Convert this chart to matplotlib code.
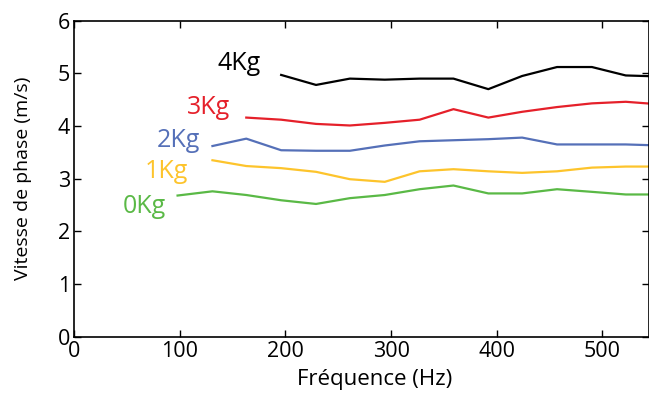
import matplotlib
matplotlib.use("Agg")
import matplotlib.pyplot as plt

plt.rcParams['font.family'] = ['Open Sans', 'DejaVu Sans']

freq = [98, 131, 163, 196, 229, 261, 294, 327, 359, 392, 424, 457, 490, 522, 555]

v0 = [2.68, 2.76, 2.69, 2.59, 2.52, 2.63, 2.69, 2.80, 2.87, 2.72, 2.72, 2.80, 2.75, 2.70, 2.70]
v1 = [None, 3.35, 3.24, 3.20, 3.13, 2.99, 2.94, 3.14, 3.18, 3.14, 3.11, 3.14, 3.21, 3.23, 3.23]
v2 = [None, 3.62, 3.76, 3.54, 3.53, 3.53, 3.63, 3.71, 3.73, 3.75, 3.78, 3.65, 3.65, 3.65, 3.63]
v3 = [None, None, 4.16, 4.12, 4.04, 4.01, 4.06, 4.12, 4.32, 4.16, 4.27, 4.36, 4.43, 4.46, 4.41]
v4 = [None, None, None, 4.97, 4.78, 4.90, 4.88, 4.90, 4.90, 4.70, 4.95, 5.12, 5.12, 4.96, 4.94]

labels = ["0Kg", "1Kg", "2Kg", "3Kg", "4Kg"]
colors = ["#5ab946", "#fdc42c", "#5570b8", "#e5202a", "#000000"]
series = [v0, v1, v2, v3, v4]
label_pos = [(46, 2.35), (67, 3.01), (78, 3.60), (106.5, 4.23), (136, 5.06)]

fig = plt.figure(figsize=(6.49, 3.94), dpi=100)
ax = fig.add_axes([0.114, 0.1455, 0.886, 0.802])

for vals, c, lab, (lx, ly) in zip(series, colors, labels, label_pos):
    xs = [f for f, v in zip(freq, vals) if v is not None]
    ys = [v for v in vals if v is not None]
    ax.plot(xs, ys, color=c, lw=1.6)
    ax.text(lx, ly, lab, color=c, fontsize=18, ha='left', va='baseline')

ax.set_xlim(0, 544)
ax.set_ylim(0, 6)
ax.set_xticks([0, 100, 200, 300, 400, 500])
ax.set_yticks([0, 1, 2, 3, 4, 5, 6])
ax.tick_params(direction='in', top=True, right=True, labelsize=15.5, length=5, width=1, pad=3)
for s in ax.spines.values():
    s.set_linewidth(1.2)
ax.set_xlabel("Fréquence (Hz)", fontsize=16)
ax.set_ylabel("Vitesse de phase (m/s)", fontsize=14)
ax.xaxis.set_label_coords(0.523, -0.102)
ax.yaxis.set_label_coords(-0.073, 0.5)

fig.savefig("out.png", dpi=100)
